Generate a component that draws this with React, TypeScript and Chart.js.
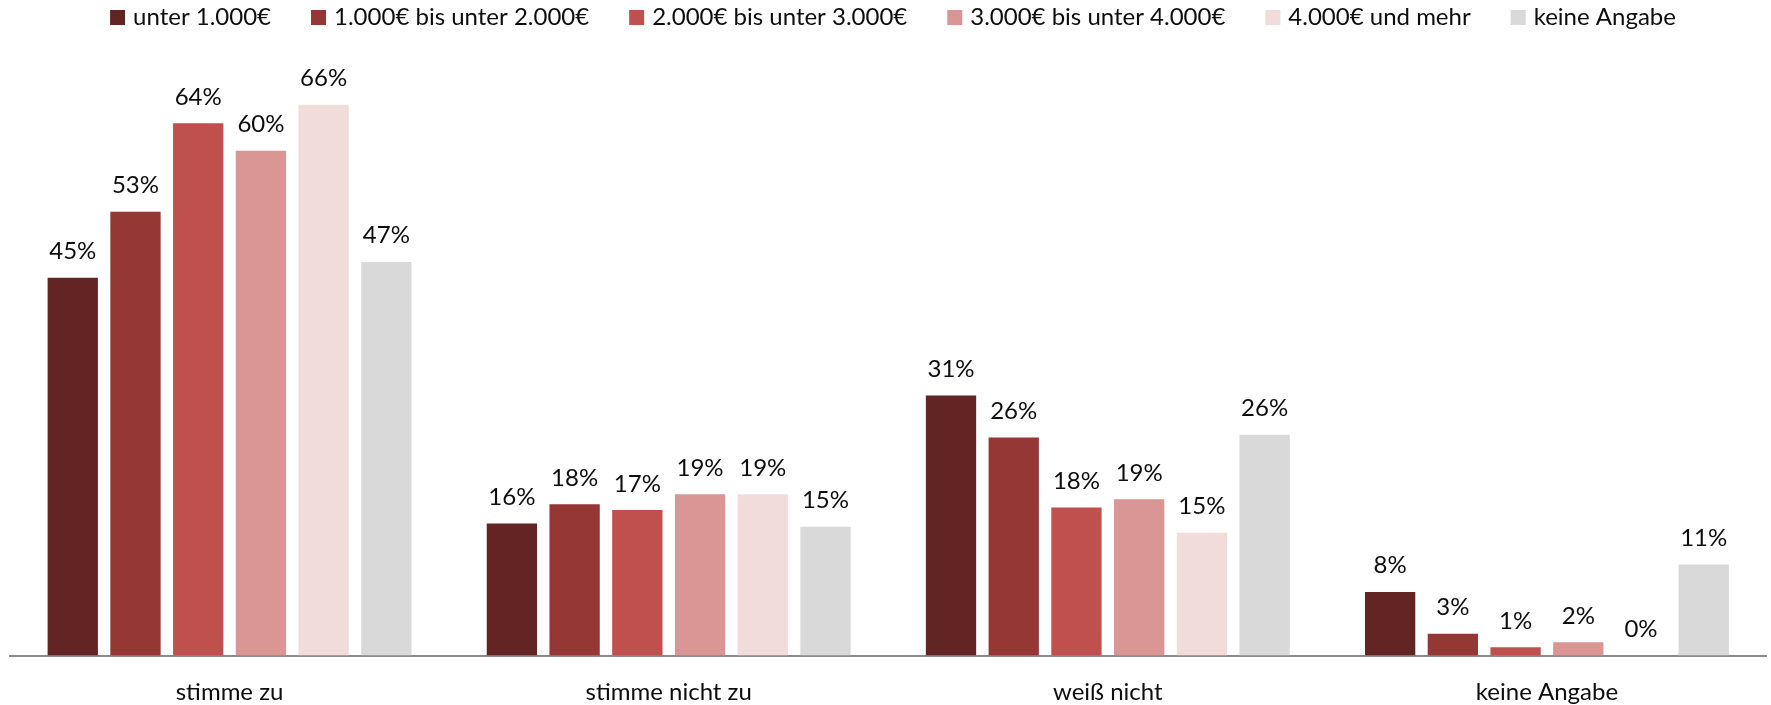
import React, { useEffect, useRef } from "react";
import { Chart, registerables } from "chart.js";

Chart.register(...registerables);

const categories = ["stimme zu", "stimme nicht zu", "weiß nicht", "keine Angabe"];
const seriesNames = [
  "unter 1.000€",
  "1.000€ bis unter 2.000€",
  "2.000€ bis unter 3.000€",
  "3.000€ bis unter 4.000€",
  "4.000€ und mehr",
  "keine Angabe",
];
const seriesColors = ["#632523", "#953735", "#C0504D", "#D99694", "#F2DCDB", "#D9D9D9"];

// values in percent, per income group, in category order
const unter1000 = [45.2, 15.8, 31.1, 7.6];
const von1000bis2000 = [53.1, 18.1, 26.1, 2.6];
const von2000bis3000 = [63.7, 17.4, 17.7, 1.0];
const von3000bis4000 = [60.4, 19.3, 18.7, 1.6];
const ab4000 = [65.9, 19.3, 14.7, 0];
const keineAngabeGruppe = [47.1, 15.4, 26.4, 10.9];

const seriesValues = [unter1000, von1000bis2000, von2000bis3000, von3000bis4000, ab4000, keineAngabeGruppe];

const FONT = "Lato, 'Open Sans', sans-serif";
const FONT_SIZE = 24;

const valueLabelPlugin = {
  id: "valueLabels",
  afterDatasetsDraw(chart: any) {
    const ctx = chart.ctx;
    ctx.save();
    ctx.font = `${FONT_SIZE}px ${FONT}`;
    ctx.fillStyle = "#0d0d0d";
    ctx.textAlign = "center";
    ctx.textBaseline = "alphabetic";
    chart.data.datasets.forEach((ds: any, di: number) => {
      const meta = chart.getDatasetMeta(di);
      meta.data.forEach((el: any, i: number) => {
        const v = ds.data[i];
        ctx.fillText(`${Math.round(v)}%`, el.x, el.y - 18.5);
      });
    });
    ctx.restore();
  },
};

const legendPlugin = {
  id: "customLegend",
  afterDraw(chart: any) {
    const ctx = chart.ctx;
    ctx.save();
    ctx.font = `${FONT_SIZE}px ${FONT}`;
    ctx.textBaseline = "alphabetic";
    ctx.textAlign = "left";
    const box = 15;
    const gap = 8;
    const spacing = 40;
    const widths = seriesNames.map((n) => ctx.measureText(n).width);
    const total = widths.reduce((a, w) => a + box + gap + w, 0) + spacing * (seriesNames.length - 1);
    let x = 893 - total / 2;
    const boxTop = 10;
    seriesNames.forEach((name, i) => {
      ctx.fillStyle = seriesColors[i];
      ctx.fillRect(x, boxTop, box, box);
      ctx.fillStyle = "#0d0d0d";
      ctx.fillText(name, x + box + gap, boxTop + box);
      x += box + gap + widths[i] + spacing;
    });
    ctx.restore();
  },
};

export default function App() {
  const canvasRef = useRef<HTMLCanvasElement | null>(null);

  useEffect(() => {
    if (!canvasRef.current) return;
    const chart = new Chart(canvasRef.current, {
      type: "bar",
      data: {
        labels: categories,
        datasets: seriesNames.map((name, i) => ({
          label: name,
          data: seriesValues[i],
          backgroundColor: seriesColors[i],
          borderWidth: 0,
          categoryPercentage: 0.857,
          barPercentage: 0.802,
        })),
      },
      options: {
        animation: false,
        responsive: false,
        layout: { padding: { left: 10, right: 4.5, top: 70.5, bottom: 0 } },
        plugins: {
          legend: { display: false },
          tooltip: { enabled: false },
        },
        scales: {
          x: {
            grid: { display: false, drawTicks: false },
            border: { display: true, color: "#8a8a8a", width: 2 },
            ticks: {
              color: "#0d0d0d",
              font: { family: FONT, size: FONT_SIZE },
              padding: 22,
              maxRotation: 0,
            },
            afterFit: (scale: any) => {
              scale.height = 49.5;
            },
          },
          y: {
            display: false,
            min: 0,
            max: 70,
          },
        },
      },
      plugins: [valueLabelPlugin, legendPlugin],
    });
    return () => chart.destroy();
  }, []);

  return (
    <div style={{ position: "absolute", left: 0, top: 0, width: 1771, height: 705, background: "#fff" }}>
      <canvas ref={canvasRef} width={1771} height={705} style={{ display: "block" }} />
    </div>
  );
}
